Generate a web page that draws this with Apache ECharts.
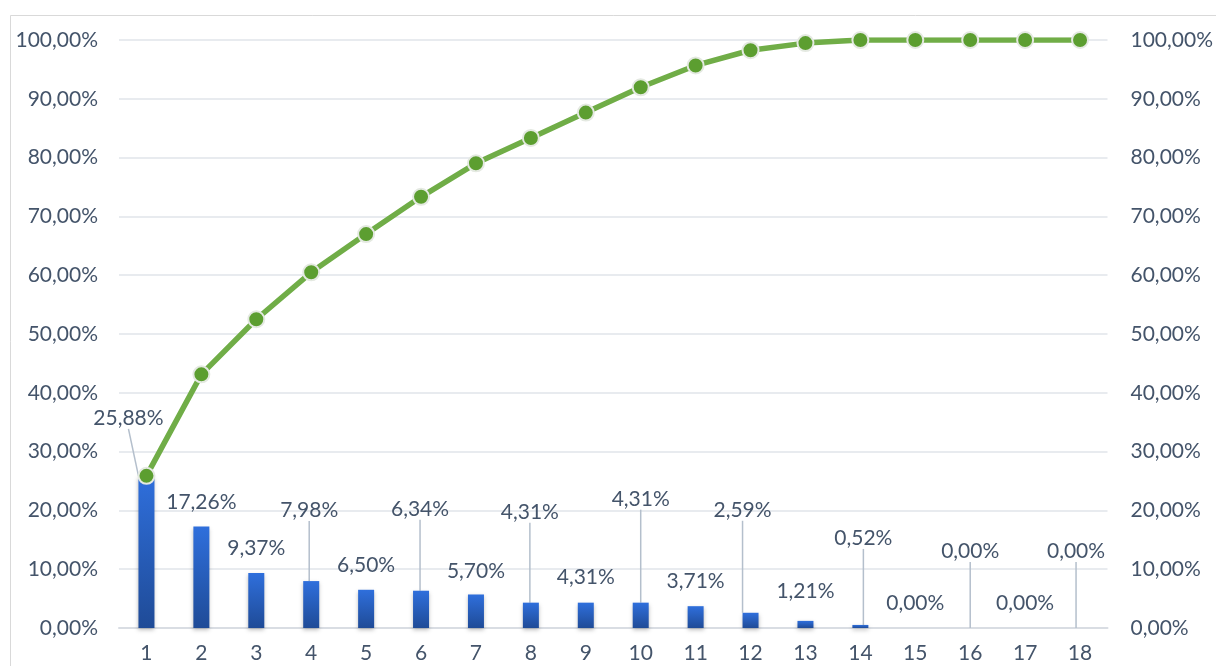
<!DOCTYPE html>
<html lang="en">
	<head>
		<meta charset="UTF-8">
		<title>Pareto</title>
		<style>
			html, body { margin: 0; padding: 0; background: #fff; }
		</style>
	</head>
	<body>
		<div id="main" style="width:1216px; height:666px;"></div>
		<script src="https://cdn.jsdelivr.net/npm/echarts@6/dist/echarts.min.js"></script>
		<script type="text/javascript">
			// data
			var categories = ['1', '2', '3', '4', '5', '6', '7', '8', '9', '10', '11', '12', '13', '14', '15', '16', '17', '18'];
			var shares = [25.88, 17.26, 9.37, 7.98, 6.50, 6.34, 5.70, 4.31, 4.31, 4.31, 3.71, 2.59, 1.21, 0.52, 0, 0, 0, 0];
			var cumulative = [25.88, 43.14, 52.51, 60.49, 66.99, 73.33, 79.03, 83.34, 87.65, 91.96, 95.67, 98.26, 99.47, 99.99, 100, 100, 100, 100];

			// where each bar label was dragged to (px from default 'top' spot)
			var labelShift = [
				[-18, -42], [0, -9], [0, -9], [-2, -55], [0, -9], [-1, -66],
				[0, -8], [-1, -75], [0, -10], [0, -88], [0, -9], [-8, -87],
				[0, -14], [3, -71], [0, -9], [0, -61], [0, -9], [-4, -61]
			];
			var withLeader = [0, 3, 5, 7, 9, 11, 13, 15, 17];

			var textColor = '#44546a';
			var font = 'Lato';

			function pct(v) {
				return v.toFixed(2).replace('.', ',') + '%';
			}

			var barData = shares.map(function(v, i) {
				return {
					value: v,
					labelLine: { show: withLeader.indexOf(i) >= 0 }
				};
			});

			var yAxisBase = {
				type: 'value',
				min: 0,
				max: 100,
				interval: 10,
				axisLine: { show: false },
				axisTick: { show: false },
				axisLabel: {
					color: textColor,
					fontFamily: font,
					fontSize: 21,
					formatter: pct
				}
			};

			var myChart = echarts.init(document.getElementById('main'));
			myChart.setOption({
				backgroundColor: '#fff',
				animation: false,
				graphic: [{
					type: 'rect',
					left: 8,
					top: 13,
					shape: { width: 1240, height: 700 },
					style: { fill: 'none', stroke: '#d9d9d9', lineWidth: 1 },
					silent: true
				}],
				grid: {
					left: 119,
					right: 108,
					top: 40,
					bottom: 38
				},
				xAxis: {
					type: 'category',
					data: categories,
					axisTick: { show: false },
					axisLine: { lineStyle: { color: '#d9dde3', width: 2 } },
					axisLabel: {
						color: textColor,
						fontFamily: font,
						fontSize: 21,
						margin: 15
					}
				},
				yAxis: [
					Object.assign({}, yAxisBase, {
						position: 'left',
						splitLine: { lineStyle: { color: '#e1e5ea', width: 1.5 } },
						axisLabel: Object.assign({}, yAxisBase.axisLabel, { margin: 21 })
					}),
					Object.assign({}, yAxisBase, {
						position: 'right',
						splitLine: { show: false },
						axisLabel: Object.assign({}, yAxisBase.axisLabel, { margin: 23 })
					})
				],
				series: [{
					name: 'share',
					type: 'bar',
					yAxisIndex: 0,
					barWidth: 16,
					data: barData,
					itemStyle: {
						color: new echarts.graphic.LinearGradient(0, 0, 0, 1, [
							{ offset: 0, color: '#2f6fdc' },
							{ offset: 1, color: '#1f4b97' }
						]),
						shadowColor: 'rgba(0,0,0,0.25)',
						shadowBlur: 4,
						shadowOffsetY: 2
					},
					label: {
						show: true,
						position: 'top',
						distance: 5,
						color: textColor,
						fontFamily: font,
						fontSize: 21,
						formatter: function(p) { return pct(p.value); }
					},
					labelLine: {
						lineStyle: { color: '#b4bfcc', width: 1.5 }
					},
					labelLayout: function(p) {
						var s = labelShift[p.dataIndex];
						return { dx: s[0], dy: s[1] };
					}
				}, {
					name: 'cumulative',
					type: 'line',
					yAxisIndex: 1,
					data: cumulative,
					z: 5,
					symbol: 'circle',
					symbolSize: 16,
					lineStyle: { color: '#70ad47', width: 5.5 },
					itemStyle: {
						color: '#5c9e30',
						borderColor: '#e4e9e1',
						borderWidth: 2
					}
				}]
			});
		</script>
	</body>
</html>
